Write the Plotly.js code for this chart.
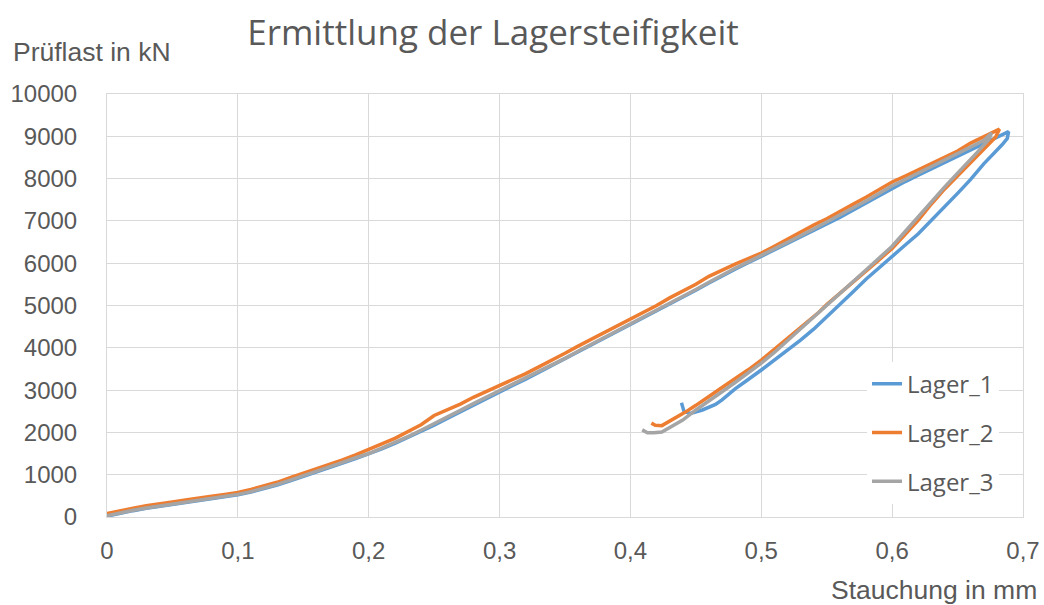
<!DOCTYPE html>
<html>
<head>
<meta charset="utf-8">
<script src="https://cdn.plot.ly/plotly-3.0.1.min.js"></script>
<style>html,body{margin:0;padding:0;background:#fff;}#chart{width:1044px;height:605px;}</style>
</head>
<body>
<div id="chart"></div>
<script>
// Lager_1 (blue): loading then unloading
const lager1X = [0,0.01,0.02,0.03,0.04,0.05,0.06,0.07,0.08,0.09,0.10,0.11,0.12,0.13,0.14,0.15,0.16,0.17,0.18,0.19,0.20,0.21,0.22,0.23,0.24,0.25,0.26,0.27,0.28,0.29,0.30,0.31,0.32,0.33,0.34,0.35,0.36,0.37,0.38,0.39,0.40,0.41,0.42,0.43,0.44,0.45,0.46,0.47,0.48,0.49,0.50,0.51,0.52,0.53,0.54,0.55,0.56,0.57,0.58,0.59,0.60,0.61,0.62,0.63,0.64,0.65,0.66,0.67,0.68,0.689,
  0.688,0.684,0.67,0.66,0.65,0.64,0.63,0.62,0.61,0.60,0.59,0.58,0.57,0.56,0.55,0.54,0.53,0.52,0.51,0.50,0.49,0.48,0.47,0.465,0.455,0.446,0.441,0.439];
const lager1Y = [20,90,150,205,250,300,345,395,435,480,525,590,670,755,855,955,1055,1165,1275,1380,1490,1610,1740,1880,2020,2170,2330,2490,2650,2810,2960,3110,3260,3420,3580,3740,3900,4060,4220,4380,4540,4700,4860,5030,5190,5360,5530,5700,5860,6010,6160,6310,6460,6610,6760,6920,7080,7250,7420,7590,7770,7930,8080,8230,8380,8530,8680,8830,8980,9110,
  8950,8800,8350,7980,7650,7330,7010,6695,6430,6160,5908,5620,5320,5030,4740,4440,4180,3940,3700,3475,3250,3030,2770,2660,2530,2450,2490,2700];

// Lager_2 (orange)
const lager2X = [0,0.01,0.02,0.03,0.04,0.05,0.06,0.07,0.08,0.09,0.10,0.11,0.12,0.13,0.14,0.15,0.16,0.17,0.18,0.19,0.20,0.21,0.22,0.23,0.24,0.25,0.26,0.27,0.28,0.29,0.30,0.31,0.32,0.33,0.34,0.35,0.36,0.37,0.38,0.39,0.40,0.41,0.42,0.43,0.44,0.45,0.46,0.47,0.48,0.49,0.50,0.51,0.52,0.53,0.54,0.55,0.56,0.57,0.58,0.59,0.60,0.61,0.62,0.63,0.64,0.65,0.66,0.67,0.675,0.682,
  0.679,0.67,0.66,0.65,0.64,0.63,0.62,0.61,0.60,0.59,0.58,0.57,0.56,0.55,0.544,0.53,0.52,0.51,0.50,0.49,0.48,0.47,0.46,0.455,0.45,0.442,0.436,0.43,0.424,0.419,0.416];
const lager2Y = [80,150,210,265,300,355,400,455,490,535,580,650,730,820,930,1030,1130,1250,1350,1470,1590,1730,1860,2020,2180,2400,2530,2670,2830,2970,3110,3240,3390,3550,3700,3870,4040,4200,4360,4510,4690,4840,5000,5180,5330,5500,5690,5840,5980,6110,6240,6400,6570,6740,6900,7050,7230,7390,7560,7730,7920,8060,8210,8370,8500,8650,8840,8990,9070,9170,
  8980,8700,8400,8080,7750,7400,7020,6680,6350,6080,5820,5550,5290,5020,4840,4480,4200,3950,3710,3480,3260,3060,2850,2740,2640,2480,2370,2270,2160,2170,2220];

// Lager_3 (gray)
const lager3X = [0,0.01,0.02,0.03,0.04,0.05,0.06,0.07,0.08,0.09,0.10,0.11,0.12,0.13,0.14,0.15,0.16,0.17,0.18,0.19,0.20,0.21,0.22,0.23,0.24,0.25,0.26,0.27,0.28,0.29,0.30,0.31,0.32,0.33,0.34,0.35,0.36,0.37,0.38,0.39,0.40,0.41,0.42,0.43,0.44,0.45,0.46,0.47,0.48,0.49,0.50,0.51,0.52,0.53,0.54,0.55,0.56,0.57,0.58,0.59,0.60,0.61,0.62,0.63,0.64,0.65,0.66,0.67,0.676,
  0.674,0.665,0.66,0.65,0.64,0.63,0.62,0.61,0.60,0.59,0.58,0.57,0.56,0.55,0.54,0.53,0.52,0.51,0.50,0.49,0.48,0.47,0.46,0.45,0.44,0.432,0.424,0.418,0.413,0.409];
const lager3Y = [30,100,160,215,260,310,355,405,445,490,535,600,680,770,870,970,1070,1180,1290,1400,1500,1630,1760,1900,2050,2200,2360,2520,2680,2830,2980,3130,3280,3430,3590,3750,3920,4080,4240,4400,4560,4720,4880,5050,5210,5380,5550,5720,5880,6030,6180,6330,6490,6650,6810,6970,7130,7300,7470,7650,7830,7980,8130,8280,8430,8580,8740,8900,9080,
  8930,8620,8450,8130,7800,7460,7100,6750,6400,6110,5840,5560,5280,5000,4730,4440,4160,3890,3640,3400,3180,2960,2750,2530,2290,2140,2010,1990,1990,2060];

const seriesNames = ['Lager_1','Lager_2','Lager_3'];
const xTickVals = [0,0.1,0.2,0.3,0.4,0.5,0.6,0.7];
const xTickText = ['0','0,1','0,2','0,3','0,4','0,5','0,6','0,7'];
const yTickVals = [0,1000,2000,3000,4000,5000,6000,7000,8000,9000,10000];

const colors = ['#5B9BD5','#ED7D31','#A5A5A5'];
const xs = [lager1X, lager2X, lager3X];
const ys = [lager1Y, lager2Y, lager3Y];

const traces = seriesNames.map((n,i)=>({
  type:'scatter', mode:'lines', name:n, x:xs[i], y:ys[i],
  line:{color:colors[i], width:3.5, shape:'linear'},
  legendgroup:'g'+i
}));

const txtColor = '#595959';
const layout = {
  width:1044, height:605,
  margin:{l:107, r:21, t:94, b:88, pad:0},
  paper_bgcolor:'#ffffff', plot_bgcolor:'#ffffff',
  showlegend:true,
  title:{text:'Ermittlung der Lagersteifigkeit', font:{family:'Open Sans, sans-serif', size:35, color:txtColor},
         x:493/1044, xref:'container', xanchor:'center', y:1-33/605, yref:'container', yanchor:'middle'},
  xaxis:{range:[0,0.7], tickvals:xTickVals, ticktext:xTickText, showgrid:true, gridcolor:'#D9D9D9', gridwidth:1,
         zeroline:false, showline:true, linecolor:'#D9D9D9', linewidth:1, mirror:true, ticks:'', ticklabelstandoff:12,
         tickfont:{family:'Liberation Sans, Arial, sans-serif', size:24, color:txtColor}, fixedrange:true},
  yaxis:{range:[0,10000], tickvals:yTickVals, tickformat:'d', showgrid:true, gridcolor:'#D9D9D9', gridwidth:1,
         zeroline:false, showline:true, linecolor:'#D9D9D9', linewidth:1, mirror:true, ticks:'', ticklabelstandoff:24,
         tickfont:{family:'Liberation Sans, Arial, sans-serif', size:24, color:txtColor}, fixedrange:true},
  legend:{x:(867-107)/916, xanchor:'left', y:(517.5-362)/423.5, yanchor:'top', bgcolor:'#ffffff', borderwidth:0,
          font:{family:'Open Sans, sans-serif', size:24, color:txtColor}, tracegroupgap:14.5, itemwidth:30},
  annotations:[
    {text:'Prüflast in kN', xref:'paper', yref:'paper', x:-107/916+11/916, y:(517.5-52)/423.5, xanchor:'left', yanchor:'middle',
     showarrow:false, font:{family:'Liberation Sans, Arial, sans-serif', size:26.5, color:txtColor}},
    {text:'Stauchung in mm', xref:'paper', yref:'paper', x:(1039-107)/916, y:(517.5-591)/423.5, xanchor:'right', yanchor:'middle',
     showarrow:false, font:{family:'Liberation Sans, Arial, sans-serif', size:26.5, color:txtColor}}
  ]
};
Plotly.newPlot('chart', traces, layout, {staticPlot:true, displayModeBar:false});
</script>
</body>
</html>
